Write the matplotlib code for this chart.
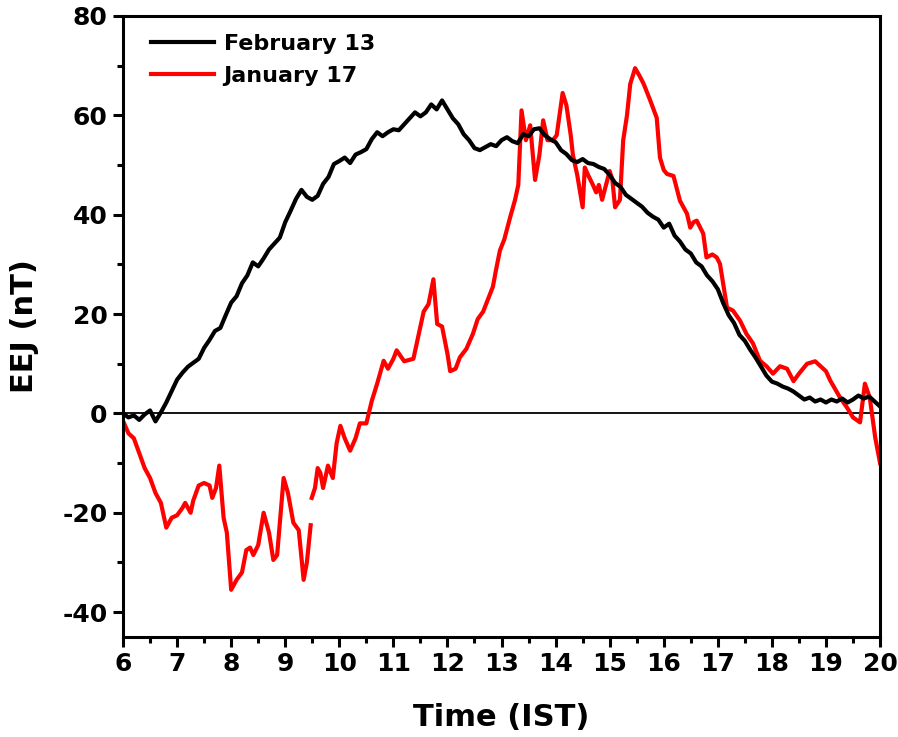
import numpy as np
import matplotlib
matplotlib.use("Agg")
import matplotlib.pyplot as plt
from matplotlib.ticker import MultipleLocator

# February 13 (black)
feb_t = [6.0, 6.1, 6.2, 6.3, 6.4, 6.5, 6.6, 6.7, 6.8, 6.9,
         7.0, 7.1, 7.2, 7.3, 7.4, 7.5, 7.6, 7.7, 7.8, 7.9,
         8.0, 8.1, 8.2, 8.3, 8.4, 8.5, 8.6, 8.7, 8.8, 8.9,
         9.0, 9.1, 9.2, 9.3, 9.4, 9.5, 9.6, 9.7, 9.8, 9.9,
         10.0, 10.1, 10.2, 10.3, 10.4, 10.5, 10.6, 10.7, 10.8, 10.9,
         11.0, 11.1, 11.2, 11.3, 11.4, 11.5, 11.6, 11.7, 11.8, 11.9,
         12.0, 12.1, 12.2, 12.3, 12.4, 12.5, 12.6, 12.7, 12.8, 12.9,
         13.0, 13.1, 13.2, 13.3, 13.4, 13.5, 13.6, 13.7, 13.8, 13.9,
         14.0, 14.1, 14.2, 14.3, 14.4, 14.5, 14.6, 14.7, 14.8, 14.9,
         15.0, 15.1, 15.2, 15.3, 15.4, 15.5, 15.6, 15.7, 15.8, 15.9,
         16.0, 16.1, 16.2, 16.3, 16.4, 16.5, 16.6, 16.7, 16.8, 16.9,
         17.0, 17.1, 17.2, 17.3, 17.4, 17.5, 17.6, 17.7, 17.8, 17.9,
         18.0, 18.1, 18.2, 18.3, 18.4, 18.5, 18.6, 18.7, 18.8, 18.9,
         19.0, 19.1, 19.2, 19.3, 19.4, 19.5, 19.6, 19.7, 19.8, 19.9, 20.0]
feb_v = [0.0, -0.8, -0.4, -1.3, -0.2, 0.6, -1.6, 0.2, 2.2, 4.5,
         6.8, 8.2, 9.4, 10.2, 11.0, 13.2, 14.8, 16.6, 17.2, 19.8,
         22.3, 23.6, 26.2, 27.8, 30.4, 29.6, 31.2, 33.0, 34.2, 35.4,
         38.5, 40.8, 43.2, 45.0, 43.6, 43.0, 43.8, 46.2, 47.6, 50.2,
         50.8, 51.5, 50.4, 52.1, 52.6, 53.2, 55.2, 56.6, 55.8, 56.6,
         57.2, 57.0, 58.2, 59.4, 60.6, 59.8, 60.6, 62.2, 61.2, 63.0,
         61.2, 59.4, 58.2, 56.2, 55.0, 53.4, 53.0, 53.6, 54.2, 53.8,
         55.0, 55.6, 54.8, 54.4, 56.2, 55.8, 57.2, 57.4, 56.0, 55.2,
         54.6, 53.0, 52.2, 51.0, 50.6, 51.2, 50.4, 50.2, 49.6, 49.2,
         48.0, 46.4, 45.6, 44.0, 43.2, 42.4, 41.6, 40.4, 39.6, 39.0,
         37.4, 38.2, 35.8, 34.6, 33.0, 32.2, 30.4, 29.6, 27.8, 26.6,
         25.0, 22.2, 19.8, 18.2, 15.8, 14.6, 12.8, 11.2, 9.4, 7.6,
         6.4, 6.0, 5.4, 5.0, 4.4, 3.6, 2.8, 3.2, 2.4, 2.8,
         2.2, 2.8, 2.4, 3.0, 2.2, 2.8, 3.6, 3.0, 3.4, 2.4, 1.4]

# January 17 (red), NaN marks the data gap
jan_t = [6.0, 6.1, 6.2, 6.3, 6.4, 6.5, 6.6, 6.7, 6.8, 6.9,
         7.0, 7.1, 7.15, 7.25, 7.3, 7.4, 7.5, 7.6, 7.65, 7.72,
         7.78, 7.86, 7.92, 8.0, 8.1, 8.2, 8.28, 8.35, 8.41, 8.5,
         8.6, 8.7, 8.78, 8.85, 8.97, 9.05, 9.15, 9.25, 9.34, 9.4,
         9.47, 9.48, 9.49, 9.55, 9.6, 9.65, 9.7, 9.79, 9.88, 9.95,
         10.02, 10.1, 10.2, 10.3, 10.38, 10.5, 10.6, 10.7, 10.82, 10.9,
         11.0, 11.06, 11.2, 11.37, 11.45, 11.56, 11.65, 11.74, 11.81, 11.9,
         12.0, 12.05, 12.15, 12.23, 12.35, 12.47, 12.56, 12.66, 12.75, 12.84,
         12.9, 12.97, 13.05, 13.16, 13.25, 13.31, 13.37, 13.45, 13.53, 13.62,
         13.7, 13.77, 13.85, 13.95, 14.02, 14.13, 14.2, 14.28, 14.32, 14.4,
         14.5, 14.54, 14.6, 14.69, 14.75, 14.8, 14.86, 15.0, 15.05, 15.1,
         15.19, 15.25, 15.32, 15.38, 15.47, 15.55, 15.63, 15.75, 15.87, 15.93,
         16.0, 16.06, 16.18, 16.3, 16.43, 16.49, 16.55, 16.61, 16.73, 16.79,
         16.9, 16.98, 17.04, 17.17, 17.28, 17.41, 17.53, 17.65, 17.78, 17.9,
         18.02, 18.15, 18.28, 18.4, 18.5, 18.65, 18.8, 18.9, 19.0, 19.08,
         19.26, 19.4, 19.5, 19.63, 19.72, 19.81, 19.91, 20.0]
jan_v = [-1.5, -4.0, -5.0, -8.0, -11.0, -13.0, -16.0, -18.0, -23.0, -21.0,
         -20.5, -19.0, -18.0, -20.0, -17.5, -14.5, -14.0, -14.5, -17.0, -15.0,
         -10.5, -21.0, -24.0, -35.5, -33.5, -32.0, -27.5, -27.0, -28.5, -26.5,
         -20.0, -24.0, -29.5, -28.5, -13.0, -16.0, -22.0, -23.5, -33.5, -30.0,
         -22.5, np.nan, -17.0, -15.0, -11.0, -12.0, -15.0, -10.5, -13.0, -6.0,
         -2.5, -5.0, -7.5, -5.0, -2.0, -2.0, 2.5, 6.0, 10.6, 9.0,
         11.0, 12.7, 10.5, 11.0, 15.0, 20.5, 22.0, 27.0, 18.0, 17.5,
         12.0, 8.5, 9.0, 11.3, 13.0, 16.0, 19.0, 20.5, 23.0, 25.5,
         29.0, 32.8, 35.0, 39.5, 43.0, 46.0, 61.0, 55.0, 58.0, 47.0,
         52.0, 59.0, 55.0, 55.0, 56.0, 64.5, 62.0, 56.0, 52.0, 48.0,
         41.5, 49.5, 48.0, 46.0, 44.5, 46.0, 43.0, 48.8, 47.0, 41.5,
         43.0, 55.0, 60.0, 66.3, 69.5, 68.0, 66.3, 63.0, 59.5, 51.5,
         49.0, 48.2, 47.8, 42.8, 40.2, 37.4, 38.5, 38.8, 36.2, 31.4,
         32.0, 31.4, 30.1, 21.3, 20.7, 18.7, 16.0, 14.1, 10.6, 9.5,
         8.0, 9.5, 9.0, 6.5, 8.0, 10.0, 10.5, 9.5, 8.5, 6.6,
         3.2, 1.0, -0.8, -1.8, 6.0, 3.2, -4.8, -10.0]

plt.rcParams["font.family"] = "DejaVu Sans"
plt.rcParams["font.weight"] = "bold"
plt.rcParams["axes.unicode_minus"] = False

fig = plt.figure(figsize=(8.98, 7.37), dpi=100)
ax = fig.add_axes([0.137, 0.1357, 0.843, 0.8426])

ax.axhline(0, color="black", lw=1.3, zorder=1)
ax.plot(feb_t, feb_v, color="black", lw=3.0, label="February 13", zorder=3)
ax.plot(jan_t, jan_v, color="red", lw=3.0, label="January 17", zorder=2)

ax.set_xlim(6, 20)
ax.set_ylim(-45, 80)
ax.xaxis.set_major_locator(MultipleLocator(1))
ax.xaxis.set_minor_locator(MultipleLocator(0.5))
ax.yaxis.set_major_locator(MultipleLocator(20))
ax.yaxis.set_minor_locator(MultipleLocator(10))

for s in ax.spines.values():
    s.set_linewidth(2.2)
ax.tick_params(which="major", direction="out", length=7, width=2.2,
               labelsize=18, pad=4)
ax.tick_params(which="minor", direction="out", length=4.5, width=2.2)
for lab in ax.get_xticklabels() + ax.get_yticklabels():
    lab.set_fontweight("bold")

ax.set_xlabel("Time (IST)", fontsize=22, fontweight="bold", labelpad=19)
ax.set_ylabel("EEJ (nT)", fontsize=22, fontweight="bold", labelpad=17)

leg = ax.legend(loc="upper left", bbox_to_anchor=(0.014, 1.0), frameon=False,
                fontsize=16, handlelength=2.8, handletextpad=0.45,
                borderaxespad=0.4, labelspacing=0.55)
for t in leg.get_texts():
    t.set_fontweight("bold")

fig.savefig("out.png", dpi=100)
